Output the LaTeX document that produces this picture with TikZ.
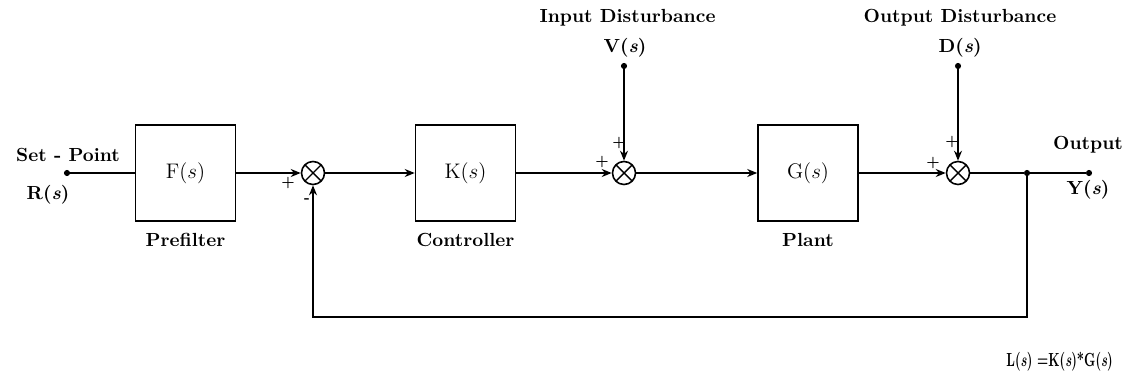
\documentclass[tikz,border=0pt]{standalone}
\usepackage{tikz}
\usetikzlibrary{arrows.meta,positioning}

\begin{document}
\begin{tikzpicture}[
  blk/.style={draw, line width=0.9pt, minimum width=2cm, minimum height=1.92cm, font=\large},
  sumj/.style={draw, line width=0.9pt, circle, minimum size=0.46cm, inner sep=0pt,
    path picture={\draw[line width=0.8pt] (path picture bounding box.north west) -- (path picture bounding box.south east)
      (path picture bounding box.north east) -- (path picture bounding box.south west);}},
  arr/.style={-{Stealth[length=2mm, width=1.6mm]}, line width=0.9pt},
  ln/.style={line width=0.9pt},
  lbl/.style={font=\fontsize{10.8}{13}\selectfont\bfseries},
  sgn/.style={font=\footnotesize\bfseries, inner sep=0pt},
  pt/.style={circle, fill, inner sep=0pt, minimum size=3.5pt}
]
  \useasboundingbox (0,0) rectangle (22.5,7.62);

  % forward path
  \node[pt] (r) at (1.34,4.16) {};
  \node[blk] (f) at (3.71,4.16) {F($s$)};
  \node[sumj] (s1) at (6.26,4.16) {};
  \node[blk] (k) at (9.31,4.16) {K($s$)};
  \node[sumj] (s2) at (12.48,4.16) {};
  \node[blk] (g) at (16.16,4.16) {G($s$)};
  \node[sumj] (s3) at (19.16,4.16) {};
  \node[pt] (br) at (20.54,4.16) {};
  \node[pt] (y) at (21.78,4.16) {};

  \draw[ln] (r) -- (f);
  \draw[arr] (f) -- (s1);
  \draw[arr] (s1) -- (k);
  \draw[arr] (k) -- (s2);
  \draw[arr] (s2) -- (g);
  \draw[arr] (g) -- (s3);
  \draw[ln] (s3) -- (br) -- (y);

  % disturbances
  \node[pt] (v) at (12.48,6.3) {};
  \node[pt] (d) at (19.16,6.3) {};
  \draw[arr] (v) -- (s2);
  \draw[arr] (d) -- (s3);

  % feedback
  \draw[arr] (br) -- ++(0,-2.88) -| (s1.south);

  % signs
  \node[sgn] (p1) at (5.76,3.96) {+};
  \node[sgn] (m1) at (6.14,3.6) {-};
  \node[sgn] (p2) at (12.04,4.38) {+};
  \node[sgn] (p3) at (12.38,4.76) {+};
  \node[sgn] (p4) at (18.66,4.36) {+};
  \node[sgn] (p5) at (19.04,4.78) {+};

  % labels
  \node[lbl] (tsp) at (1.36,4.52) {Set - Point};
  \node[lbl] (tr) at (0.96,3.72) {R(\textit{s})};
  \node[lbl] (tf) at (3.71,2.82) {Prefilter};
  \node[lbl] (tk) at (9.31,2.82) {Controller};
  \node[lbl] (tg) at (16.16,2.82) {Plant};
  \node[lbl] (tid) at (12.55,7.26) {Input Disturbance};
  \node[lbl] (tv) at (12.5,6.66) {V(\textit{s})};
  \node[lbl] (tod) at (19.2,7.26) {Output Disturbance};
  \node[lbl] (td) at (19.2,6.66) {D(\textit{s})};
  \node[lbl] (to) at (21.76,4.72) {Output};
  \node[lbl] (ty) at (21.76,3.82) {Y(\textit{s})};
  \node[lbl, anchor=east] (tl) at (22.38,0.38) {\scalebox{0.66}[1]{L(\textit{s}) =K(\textit{s})*G(\textit{s})}};
\end{tikzpicture}
\end{document}
